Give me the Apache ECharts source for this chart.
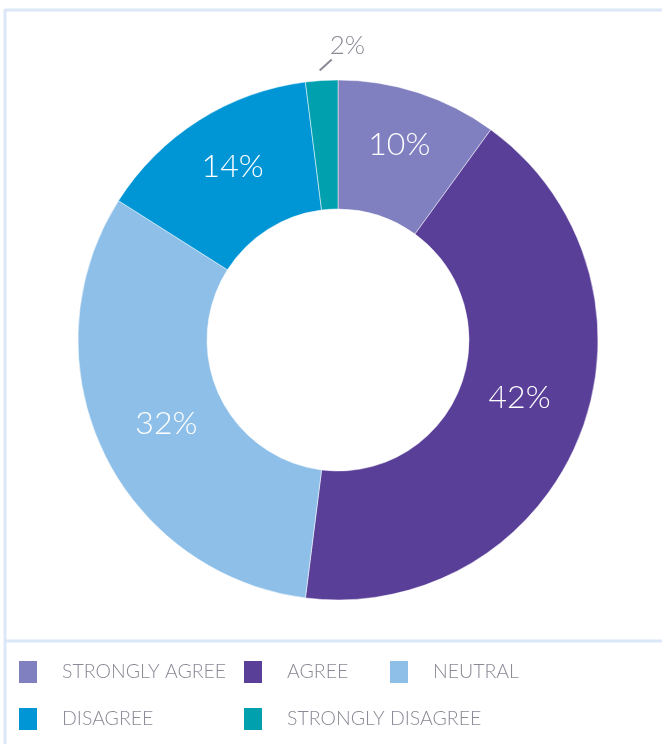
<!DOCTYPE html>
<html>
<head>
<meta charset="utf-8">
<script src="https://cdn.jsdelivr.net/npm/echarts@6/dist/echarts.min.js"></script>
<style>
html,body{margin:0;padding:0;background:#fff;}
#chart{width:662px;height:744px;}
</style>
</head>
<body>
<div id="chart"></div>
<script>
const categories = ['STRONGLY AGREE', 'AGREE', 'NEUTRAL', 'DISAGREE', 'STRONGLY DISAGREE'];
const values = [10, 42, 32, 14, 2];
const colors = ['#8080c0', '#5a3f99', '#8dbfe8', '#0096d6', '#00a0ae'];
// label nudges (style only)
const nudgeDx = [0, -3, 8, 1, 0];
const nudgeDy = [-7, -15, -1, -6, 0];
// legend grid placement (style only)
const legendLeft = [12, 237, 383, 12, 237];
const legendTop = [654, 654, 654, 701, 701];

const chart = echarts.init(document.getElementById('chart'), null, {renderer: 'canvas'});

const data = categories.map((name, i) => {
  const item = {name: name, value: values[i], itemStyle: {color: colors[i]}};
  if (i === 4) {
    item.label = {position: 'outside', color: '#8a8a96', fontSize: 26};
    item.labelLine = {show: true, length: 12, length2: 0, lineStyle: {color: '#8a8a96', width: 2}};
  }
  return item;
});

const legendText = {color: '#8a8a96', fontSize: 19.5, fontFamily: 'Lato', fontWeight: 300, padding: [0, 0, 0, 19]};
const legends = categories.map((name, i) => ({
  left: legendLeft[i], top: legendTop[i], orient: 'horizontal', icon: 'rect',
  itemWidth: 20, itemHeight: 24,
  data: [name], textStyle: legendText, selectedMode: false
}));

chart.setOption({
  animation: false,
  legend: legends,
  graphic: [
    {type: 'line', shape: {x1: 5, y1: 9, x2: 5, y2: 744}, style: {stroke: '#dce8f7', lineWidth: 3}},
    {type: 'line', shape: {x1: 5, y1: 10, x2: 662, y2: 10}, style: {stroke: '#dce8f7', lineWidth: 3}},
    {type: 'line', shape: {x1: 5, y1: 641, x2: 662, y2: 641}, style: {stroke: '#dce8f7', lineWidth: 3}}
  ],
  series: [{
    type: 'pie',
    center: [338, 340],
    radius: [131, 260],
    startAngle: 90,
    clockwise: true,
    avoidLabelOverlap: false,
    label: {
      show: true, position: 'inside', formatter: '{c}%',
      color: '#ffffff', fontSize: 32, fontFamily: 'Lato', fontWeight: 300
    },
    labelLine: {show: false},
    labelLayout: function (p) {
      if (p.dataIndex === 4 && p.labelLinePoints) {
        const s = p.labelLinePoints[0];
        const a = [s[0] - 2, s[1] - 10];
        const b = [s[0] + 10, s[1] - 21];
        return {
          x: s[0] + 8, y: s[1] - 35, align: 'left', verticalAlign: 'middle',
          labelLinePoints: [a, b, b]
        };
      }
      return {dx: nudgeDx[p.dataIndex], dy: nudgeDy[p.dataIndex]};
    },
    itemStyle: {borderColor: '#ffffff', borderWidth: 0.5},
    emphasis: {disabled: true},
    data: data
  }]
});
</script>
</body>
</html>
